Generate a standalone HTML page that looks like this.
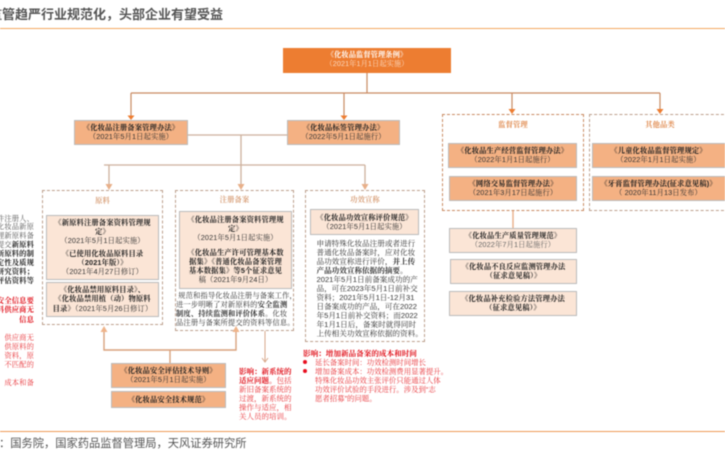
<!DOCTYPE html>
<html><head><meta charset="utf-8">
<style>
html,body{margin:0;padding:0;background:#fff}
#p{position:relative;width:725px;height:454px;overflow:hidden;background:#fff;font-family:"Liberation Sans","Noto Serif CJK SC",serif;font-size:7.3px;letter-spacing:.12px;color:#333;filter:blur(.4px)}
#p div{position:absolute;box-sizing:border-box}
.t{white-space:nowrap;text-align:center}
.l{white-space:nowrap;text-align:left}
.b{font-weight:700;color:#222}
.g{color:#666}
.o{background:#F4B183;border:1px solid #bbb}
.f{background:#FBE5D6;border:1px solid #bbb}
.d{border:1.4px dashed #bd9f8c}
.h{text-align:center;color:#d9a27c;font-weight:700;font-size:7.3px;white-space:nowrap}
.r{color:#e8353a}
.r b{color:#e0101a}
svg{position:absolute;left:0;top:0}
</style></head><body><div id="p">
<div class="l" style="left:-11px;top:6px;font:700 13px/18px 'Liberation Sans','Noto Sans CJK SC',sans-serif;letter-spacing:0;color:#555">监管趋严行业规范化，头部企业有望受益</div>
<div style="left:0;top:27.5px;width:725px;height:1.4px;background:#f4a860"></div>
<div style="left:0;top:431px;width:725px;height:1.2px;background:#ee9a55"></div>
<div class="l" style="left:-1px;top:437px;font:11.25px/15px 'Liberation Sans','Noto Sans CJK SC',sans-serif;letter-spacing:0;color:#555">：国务院，国家药品监督管理局，天风证券研究所</div>

<div class="d" style="left:42px;top:190px;width:121px;height:135px"></div>
<div class="d" style="left:175px;top:190px;width:119px;height:141px"></div>
<div class="d" style="left:305px;top:190px;width:120px;height:152px"></div>
<div class="d" style="left:442px;top:114px;width:142px;height:97px;border-color:#c98a62"></div>
<div class="d" style="left:589px;top:114px;width:140px;height:97px"></div>

<svg width="725" height="454" fill="none">
<g stroke="#c98a62" stroke-width="1.2">
<path d="M367 73V93M131 93H660"/><path d="M131 93V116M344 93V116M512 93V110M660 93V110"/>
</g>
<g fill="#ed7d31">
<path d="M127.5 115.500h7L131 120zM340.500 115.500h7L344 120zM508.500 109h7L512 114zM656.500 109h7L660 114z"/>
</g>
<g stroke="#cdb09c" stroke-width="1.3">
<path d="M188 135H287M241 135V186M104 165H365M109 165V186M365 165V186"/>
</g>
<g fill="#e8b08a">
<path d="M105.500 184h7L109 190zM237.500 184h7L241 190zM361.500 184h7L365 190z"/>
</g>
<path d="M104 331V350H236V331M170 350V363" stroke="#d9a27c" stroke-width="1.4"/>
<path d="M100.500 332h7L104 326zM232.500 332h7L236 326z" fill="#efb48a"/>
<path d="M265 331V362M262 358L265 362L268 358" stroke="#d8a88a" stroke-width="1"/>
<path d="M513 211V228" stroke="#e8ae88" stroke-width="1.4"/>
</svg>

<div style="left:283px;top:48px;width:168px;height:25px;background:#ED7D31"></div>
<div class="t" style="left:283px;top:50px;width:168px;font-size:7.2px;line-height:9.4px;color:#fff"><b>《化妆品监督管理条例》</b><br><span style="color:#fbd9c0">（2021年1月1日起实施）</span></div>

<div class="o" style="left:74px;top:120px;width:114px;height:25px"></div>
<div class="t" style="left:74px;top:123px;width:114px;line-height:9.4px"><span class="b">《化妆品注册备案管理办法》</span><br>（2021年5月1日起实施）</div>
<div class="o" style="left:287px;top:120px;width:113px;height:25px"></div>
<div class="t" style="left:287px;top:123px;width:113px;line-height:9.4px"><span class="b">《化妆品标签管理办法》</span><br>（2022年5月1日起施行）</div>

<!-- 原料 -->
<div class="h" style="left:42px;top:195px;width:121px;line-height:11px">原料</div>
<div class="f" style="left:46px;top:215px;width:113px;height:65px"></div>
<div class="t" style="left:46px;top:217.500px;width:113px;line-height:9.400px"><span class="b">《新原料注册备案资料管理规<br>定》</span><br>（2021年5月1日起实施）</div>
<div class="t" style="left:46px;top:249px;width:113px;line-height:9.200px"><span class="b">《已使用化妆品原料目录<br>（2021年版）》</span><br>（2021年4月27日修订）</div>
<div class="f" style="left:46px;top:282px;width:113px;height:35px"></div>
<div class="t" style="left:46px;top:285px;width:113px;line-height:9.400px"><span class="b">《化妆品禁用原料目录》、<br>《化妆品禁用植（动）物原料<br>目录》</span>（2021年5月26日修订）</div>

<!-- 注册备案 -->
<div class="h" style="left:175px;top:194px;width:119px;line-height:11px">注册备案</div>
<div class="f" style="left:179px;top:211px;width:113px;height:78px"></div>
<div class="t" style="left:179px;top:214.500px;width:113px;line-height:9.100px"><span class="b">《化妆品注册备案资料管理规<br>定》</span><br>（2021年5月1日起实施）</div>
<div class="t" style="left:179px;top:247.500px;width:113px;line-height:9.100px"><span class="b">《化妆品生产许可管理基本数<br>据集》《普通化妆品备案管理<br>基本数据集》等5个征求意见</span><br>稿（2021年9月24日）</div>
<div class="l" style="left:176px;top:290.500px;line-height:9.100px">&nbsp;规范和指导化妆品注册与备案工作，<br>进一步明晰了对新原料的<b>安全监测<br>制度、持续监测和评价体系</b>。化妆<br>品注册与备案所提交的资料等信息。</div>

<!-- 功效宣称 -->
<div class="h" style="left:305px;top:194px;width:120px;line-height:11px">功效宣称</div>
<div class="f" style="left:310px;top:209px;width:109px;height:26px"></div>
<div class="t" style="left:310px;top:212.500px;width:109px;line-height:9.100px"><span class="b">《化妆品功效宣称评价规范》</span><br>（2021年5月1日起实施）</div>
<div class="l" style="left:316.500px;top:238.500px;font-size:7.600px;letter-spacing:0;line-height:9.100px">申请特殊化妆品注册或者进行<br>普通化妆品备案时，应对化妆<br>品功效宣称进行评价，<b>并上传<br>产品功效宣称依据的摘要。</b><br>2021年5月1日前备案成功的产<br>品，可在2023年5月1日前补交<br>资料；2021年5月1日-12月31<br>日备案成功的产品，可在2022<br>年5月1日前补交资料；而2022<br>年1月1日后，备案时就得同时<br>上传相关功效宣称依据的资料。</div>

<!-- 红字 -->
<div class="l r" style="left:303px;top:348.500px;font-size:7.600px;letter-spacing:0;line-height:9.100px"><b>影响：增加新品备案的成本和时间</b></div>
<div style="left:303px;top:360px;width:4px;height:4px;border-radius:50%;background:#e81020"></div>
<div style="left:303px;top:369px;width:4px;height:4px;border-radius:50%;background:#e81020"></div>
<div class="l r" style="left:315px;top:357.500px;font-size:7.400px;letter-spacing:0;line-height:9.100px">延长备案时间：功效检测时间增长<br>增加备案成本：功效检测费用显著提升。<br>特殊化妆品功效主张评价只能通过人体<br>功效评价试验的手段进行。涉及到“志<br>愿者招募”的问题。</div>
<div class="l r" style="left:239px;top:366.500px;font-size:7.500px;letter-spacing:0;line-height:9.050px"><b>影响：新系统的<br>适应问题。</b>包括<br>新旧备案系统的<br>过渡，新系统的<br>操作与适应，相<br>关人员的培训。</div>

<!-- 技术 -->
<div class="o" style="left:111px;top:363px;width:115px;height:25px"></div>
<div class="t" style="left:111px;top:366px;width:115px;line-height:9.400px"><span class="b">《化妆品安全评估技术导则》</span><br>（2021年5月1日起实施）</div>
<div class="o" style="left:111px;top:391px;width:115px;height:17px"></div>
<div class="t" style="left:111px;top:395px;width:115px;line-height:9.400px"><span class="b">《化妆品安全技术规范》</span></div>

<!-- 左侧截断文字 -->
<div style="right:691px;top:214.500px;text-align:right;white-space:nowrap;line-height:8.950px;font-size:7.300px;color:#555">件注册人、<br>化妆品新原<br>理新原料备<br>提交<b style="color:#222">新原料<br>新原料的制<br>定性及质规<br>等研究资料；<br>评估资料等</b></div>
<div class="r" style="right:691px;top:296px;text-align:right;white-space:nowrap;line-height:9.300px;font-size:7.300px"><b>安全信息要<br>料供应商无<br>信息</b></div>
<div class="r" style="right:691px;top:333px;text-align:right;white-space:nowrap;line-height:9px;font-size:7.300px">供应商无<br>供原料的<br>资料，原<br>不匹配的<br>&nbsp;<br>成本和备</div>

<!-- 监督管理 -->
<div class="h" style="left:442px;top:119px;width:142px;line-height:11px;color:#e08b50">监督管理</div>
<div class="o" style="left:448px;top:143px;width:129px;height:25px"></div>
<div class="t" style="left:448px;top:146px;width:129px;line-height:9.400px"><span class="b">《化妆品生产经营监督管理办法》</span><br>（2022年1月1日起施行）</div>
<div class="o" style="left:449px;top:176px;width:128px;height:25px"></div>
<div class="t" style="left:449px;top:179px;width:128px;line-height:9.400px"><span class="b">《网络交易监督管理办法》</span><br>（2021年3月17日起施行）</div>

<!-- 其他品类 -->
<div class="h" style="left:589px;top:119px;width:142px;line-height:11px;color:#e08b50">其他品类</div>
<div class="o" style="left:592px;top:143px;width:140px;height:25px"></div>
<div class="t" style="left:592px;top:146px;width:133px;line-height:9.400px"><span class="b">《儿童化妆品监督管理规定》</span><br>（2022年1月1日起实施）</div>
<div class="o" style="left:592px;top:176px;width:140px;height:25px"></div>
<div class="t" style="left:592px;top:179px;width:133px;line-height:9.400px"><span class="b">《牙膏监督管理办法(征求意见稿)》</span><br>（ 2020年11月13日发布）</div>

<!-- 浅色 -->
<div class="f" style="left:449px;top:228px;width:128px;height:25px"></div>
<div class="t" style="left:449px;top:231px;width:128px;line-height:9.400px"><span class="b">《化妆品生产质量管理规范》</span><br><span class="g">（2022年7月1日起施行）</span></div>
<div class="f" style="left:450px;top:259px;width:127px;height:25px"></div>
<div class="t" style="left:450px;top:262px;width:127px;line-height:9.400px"><span class="b">《化妆品不良反应监测管理办法<br>（征求意见稿）》</span></div>
<div class="f" style="left:449px;top:291px;width:128px;height:25px"></div>
<div class="t" style="left:449px;top:294px;width:128px;line-height:9.400px"><span class="b">《化妆品补充检验方法管理办法<br>（征求意见稿）》</span></div>
</div></body></html>
